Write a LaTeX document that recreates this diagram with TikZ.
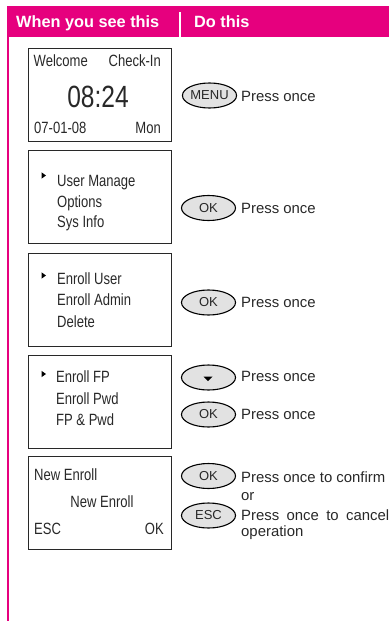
\documentclass[tikz,border=0pt]{standalone}
\usepackage{fontspec}
\setmainfont{Liberation Sans}
\newfontfamily\lcdfont[FakeStretch=0.8]{Liberation Sans}
\usetikzlibrary{shapes.geometric}
\definecolor{brand}{RGB}{230,0,126}
\definecolor{ink}{RGB}{40,40,40}
\definecolor{btn}{RGB}{226,226,226}
\begin{document}
\begin{tikzpicture}[x=1pt,y=-1pt,
  lcd/.style={inner sep=0, text=ink, font=\lcdfont\fontsize{16.3}{18}\selectfont, anchor=base west},
  lcdr/.style={lcd, anchor=base east},
  act/.style={inner sep=0, text=ink, font=\fontsize{14.9}{17}\selectfont, anchor=base west},
  screen/.style={draw=ink, line width=1.4pt, minimum width=143pt, minimum height=93pt, anchor=north west, inner sep=0},
  key/.style={ellipse, draw=black, fill=btn, line width=1.1pt, minimum width=54pt, minimum height=25pt, inner sep=0, font=\fontsize{13}{15}\selectfont, text=ink},
  head/.style={inner sep=0, text=white, font=\bfseries\fontsize{16.3}{18}\selectfont, anchor=base west},
  pointer/.style={fill=black}]

\useasboundingbox (0,0) rectangle (389,621);
\fill[brand] (7,6) rectangle (389,37);
\draw[brand, line width=1.8pt] (7.8,36) -- (7.8,621);
\draw[white, line width=1.5pt] (180,12) -- (180,37);
\node[head] (h1) at (16,27.5) {When you see this};
\node[head] (h2) at (194,27.5) {Do this};

% screens
\node[screen] (s1) at (28,48) {};
\node[screen] (s2) at (28,150) {};
\node[screen] (s3) at (28,253) {};
\node[screen] (s4) at (28,355) {};
\node[screen] (s5) at (28,456) {};

% screen 1
\node[lcd] (t11) at (33.5,66.7) {Welcome};
\node[lcdr] (t12) at (161,66.7) {Check-In};
\node[lcd, anchor=base, font=\lcdfont\fontsize{30.7}{32}\selectfont] (t13) at (98,107.3) {08:24};
\node[lcd] (t14) at (34,133.3) {07-01-08};
\node[lcdr] (t15) at (161,133.3) {Mon};

% screen 2
\fill[pointer] (41.5,172.3) -- (46,175.5) -- (41.5,178.7) -- cycle;
\node[lcd] (t21) at (57,186.7) {User Manage};
\node[lcd] (t22) at (57,207) {Options};
\node[lcd] (t23) at (57,227.5) {Sys Info};

% screen 3
\fill[pointer] (41.5,272.3) -- (46,275.5) -- (41.5,278.7) -- cycle;
\node[lcd] (t31) at (57,284) {Enroll User};
\node[lcd] (t32) at (57,305.5) {Enroll Admin};
\node[lcd] (t33) at (57,327) {Delete};

% screen 4
\fill[pointer] (41.5,370.8) -- (46,374) -- (41.5,377.2) -- cycle;
\node[lcd] (t41) at (56,382.7) {Enroll FP};
\node[lcd] (t42) at (56,404) {Enroll Pwd};
\node[lcd] (t43) at (56,425) {FP \& Pwd};

% screen 5
\node[lcd] (t51) at (34,480) {New Enroll};
\node[lcd, anchor=base] (t52) at (102,507.7) {New Enroll};
\node[lcd] (t53) at (34,534.3) {ESC};
\node[lcdr] (t54) at (164,534.3) {OK};

% keys
\node[key, minimum width=53pt] (k1) at (209.5,95.5) {MENU};
\node[key] (k2) at (208.5,208) {OK};
\node[key] (k3) at (208.5,302.5) {OK};
\node[key] (k4) at (208.5,377.5) {};
\fill[pointer] (203.5,376.5) -- (212.5,376.5) -- (208,381) -- cycle;
\node[key] (k5) at (208.5,414.5) {OK};
\node[key] (k6) at (208.5,476) {OK};
\node[key] (k7) at (208.5,515.5) {ESC};

% actions
\node[act] (a1) at (241,101.7) {Press once};
\node[act] (a2) at (241,213.3) {Press once};
\node[act] (a3) at (241,307.3) {Press once};
\node[act] (a4) at (241,381) {Press once};
\node[act] (a5) at (241,419) {Press once};
\node[act] (a6) at (241,482.3) {Press once to confirm};
\node[act] (a7) at (241,500.7) {or};
\node[act] (a8) at (241,520.7) {\makebox[148pt][s]{Press once to cancel}};
\node[act] (a9) at (241,536) {operation};
\end{tikzpicture}
\end{document}
